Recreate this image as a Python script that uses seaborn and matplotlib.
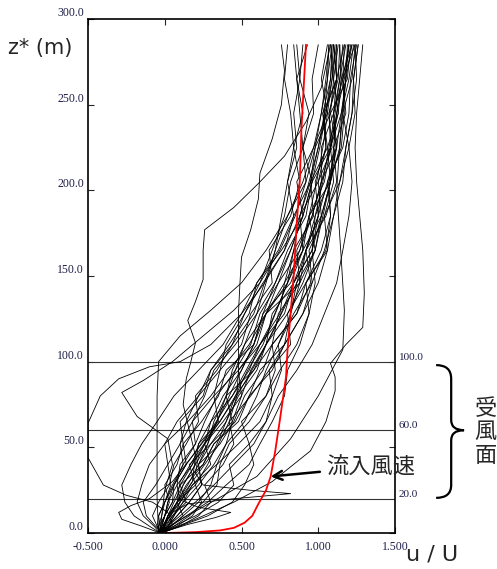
import pandas as pd
import matplotlib
matplotlib.use('Agg')
import matplotlib.pyplot as plt
import seaborn as sns
from matplotlib.path import Path
import matplotlib.patches as mpatches

# heights shared by the regular profiles [m]
z_levels = [0, 4, 10, 18, 28, 40, 52, 65, 80, 95, 110, 128, 146, 165, 185, 205, 225, 245, 265, 285]

# u/U of the regular profiles at z_levels
u01 = [-0.03, 0.00, 0.02, 0.10, 0.08, 0.18, 0.22, 0.35, 0.32, 0.48, 0.60, 0.66, 0.80, 0.84, 0.97, 0.95, 1.06, 1.03, 1.12, 1.10]
u02 = [-0.02, 0.04, 0.12, 0.08, 0.20, 0.16, 0.30, 0.44, 0.40, 0.58, 0.70, 0.74, 0.88, 0.98, 0.94, 1.08, 1.12, 1.08, 1.19, 1.21]
u03 = [-0.04, -0.04, 0.00, 0.03, 0.00, 0.08, 0.12, 0.10, 0.25, 0.30, 0.42, 0.55, 0.60, 0.76, 0.90, 0.86, 0.97, 1.06, 1.02, 1.06]
u04 = [-0.03, 0.06, 0.20, 0.35, 0.45, 0.42, 0.55, 0.50, 0.66, 0.72, 0.70, 0.86, 0.95, 0.92, 1.05, 1.12, 1.10, 1.18, 1.16, 1.24]
u05 = [-0.02, -0.06, -0.12, -0.14, -0.06, 0.02, 0.00, 0.15, 0.30, 0.42, 0.55, 0.66, 0.88, 0.92, 1.00, 0.98, 1.05, 1.03, 1.08, 1.09]
u06 = [-0.03, 0.01, 0.05, 0.14, 0.10, 0.25, 0.32, 0.48, 0.55, 0.62, 0.78, 0.82, 0.86, 0.98, 1.02, 1.08, 1.06, 1.13, 1.15, 1.14]
u07 = [-0.04, -0.04, -0.02, 0.00, 0.04, 0.02, 0.10, 0.14, 0.22, 0.36, 0.40, 0.52, 0.64, 0.78, 0.84, 0.80, 0.86, 0.84, 0.88, 0.86]
u08 = [-0.02, 0.10, 0.22, 0.30, 0.26, 0.38, 0.45, 0.42, 0.56, 0.68, 0.82, 0.80, 0.92, 1.06, 1.04, 1.14, 1.20, 1.16, 1.22, 1.24]
u09 = [-0.03, -0.10, -0.20, -0.26, -0.28, -0.22, -0.15, -0.05, 0.06, 0.22, 0.38, 0.50, 0.60, 0.74, 0.84, 0.95, 0.98, 1.08, 1.10, 1.13]
u10 = [-0.02, 0.00, 0.05, 0.12, 0.18, 0.30, 0.26, 0.38, 0.50, 0.48, 0.62, 0.75, 0.78, 0.90, 0.88, 1.00, 1.05, 1.04, 1.12, 1.17]
u11 = [-0.03, -0.02, 0.00, 0.05, 0.06, 0.14, 0.12, 0.24, 0.35, 0.40, 0.58, 0.64, 0.82, 0.90, 1.02, 1.00, 1.09, 1.07, 1.12, 1.10]
u12 = [-0.02, 0.02, 0.08, 0.16, 0.24, 0.22, 0.36, 0.45, 0.52, 0.64, 0.70, 0.86, 0.92, 1.05, 1.08, 1.06, 1.16, 1.20, 1.21, 1.25]
u13 = [-0.04, -0.03, 0.00, 0.02, 0.08, 0.10, 0.20, 0.18, 0.32, 0.36, 0.50, 0.56, 0.70, 0.68, 0.82, 0.88, 0.84, 0.90, 0.86, 0.93]
u14 = [-0.03, 0.04, 0.14, 0.28, 0.40, 0.55, 0.62, 0.70, 0.78, 0.80, 0.88, 0.94, 0.92, 1.02, 1.08, 1.07, 1.15, 1.17, 1.16, 1.20]
u15 = [-0.02, -0.05, -0.08, -0.04, 0.03, 0.06, 0.14, 0.22, 0.20, 0.34, 0.44, 0.58, 0.65, 0.72, 0.80, 0.92, 0.90, 0.97, 0.96, 1.00]
u16 = [-0.03, 0.00, 0.02, 0.06, 0.12, 0.20, 0.22, 0.30, 0.44, 0.55, 0.62, 0.78, 0.84, 0.96, 0.98, 1.07, 1.11, 1.10, 1.16, 1.17]
u17 = [-0.02, 0.10, 0.28, 0.44, 0.52, 0.58, 0.55, 0.66, 0.70, 0.68, 0.78, 0.90, 0.96, 0.94, 1.04, 1.10, 1.08, 1.15, 1.18, 1.19]
u18 = [-0.04, -0.02, 0.00, 0.02, 0.06, 0.12, 0.10, 0.18, 0.26, 0.32, 0.46, 0.60, 0.72, 0.80, 0.92, 0.96, 0.90, 0.94, 0.88, 0.90]
u19 = [-0.03, -0.01, 0.02, 0.08, 0.15, 0.22, 0.30, 0.40, 0.46, 0.58, 0.66, 0.70, 0.84, 0.96, 1.00, 1.02, 1.12, 1.15, 1.20, 1.23]
u20 = [-0.02, 0.02, 0.06, 0.10, 0.18, 0.34, 0.48, 0.62, 0.70, 0.76, 0.74, 0.82, 0.88, 0.86, 0.96, 1.02, 1.08, 1.07, 1.13, 1.14]
u21 = [-0.03, -0.07, -0.14, -0.18, -0.15, -0.10, 0.00, 0.08, 0.22, 0.30, 0.44, 0.52, 0.62, 0.70, 0.78, 0.82, 0.90, 0.88, 0.86, 0.84]
u22 = [-0.02, 0.00, 0.03, 0.08, 0.14, 0.25, 0.32, 0.46, 0.55, 0.70, 0.78, 0.90, 1.00, 1.06, 1.10, 1.16, 1.18, 1.22, 1.23, 1.26]
u23 = [-0.04, 0.02, 0.08, 0.16, 0.24, 0.22, 0.28, 0.32, 0.40, 0.46, 0.56, 0.62, 0.74, 0.88, 0.96, 1.02, 1.02, 1.10, 1.12, 1.12]
u24 = [-0.03, 0.04, 0.12, 0.22, 0.30, 0.34, 0.40, 0.44, 0.50, 0.56, 0.66, 0.80, 0.90, 0.98, 1.03, 1.08, 1.14, 1.16, 1.18, 1.22]
u25 = [-0.03, 0.06, 0.16, 0.25, 0.34, 0.36, 0.42, 0.55, 0.66, 0.75, 0.86, 0.94, 0.98, 0.96, 1.02, 1.08, 1.10, 1.12, 1.17, 1.20]
u26 = [-0.02, -0.02, 0.00, 0.05, 0.10, 0.18, 0.26, 0.30, 0.38, 0.50, 0.58, 0.64, 0.72, 0.82, 0.90, 0.96, 1.08, 1.12, 1.15, 1.22]
u27 = [-0.04, 0.02, 0.10, 0.20, 0.32, 0.45, 0.58, 0.66, 0.74, 0.86, 0.96, 1.04, 1.12, 1.16, 1.20, 1.22, 1.20, 1.24, 1.23, 1.26]
u28 = [-0.03, -0.05, -0.04, 0.00, 0.05, 0.12, 0.20, 0.26, 0.34, 0.46, 0.52, 0.60, 0.66, 0.72, 0.76, 0.80, 0.84, 0.82, 0.78, 0.80]
u29 = [-0.03, 0.08, 0.18, 0.24, 0.20, 0.28, 0.34, 0.40, 0.48, 0.60, 0.66, 0.76, 0.86, 0.92, 1.00, 1.06, 1.12, 1.10, 1.14, 1.18]
u30 = [-0.02, -0.03, -0.04, 0.00, 0.06, 0.14, 0.24, 0.36, 0.46, 0.54, 0.64, 0.72, 0.80, 0.90, 0.94, 1.04, 1.08, 1.13, 1.10, 1.08]
u31 = [-0.03, 0.02, 0.06, 0.12, 0.22, 0.32, 0.40, 0.52, 0.60, 0.66, 0.74, 0.84, 0.96, 1.04, 1.10, 1.14, 1.18, 1.22, 1.25, 1.24]
u32 = [-0.04, -0.02, 0.04, 0.08, 0.12, 0.20, 0.28, 0.34, 0.40, 0.44, 0.52, 0.66, 0.78, 0.84, 0.88, 0.94, 1.00, 1.05, 1.09, 1.12]

# irregular profiles, each with its own heights
loop_z = [0, 5, 12, 18, 22, 28, 44, 64, 80, 90, 97, 100, 110, 128, 146, 165, 185, 205, 225, 245, 265, 285]
loop_u = [-0.02, 0.05, 0.02, -0.08, -0.25, -0.40, -0.50, -0.50, -0.42, -0.30, -0.10, 0.10, 0.30, 0.50, 0.65, 0.78, 0.88, 0.95, 1.00, 1.04, 1.06, 1.07]
spike_z = [0, 6, 12, 17, 20, 23, 25, 28, 35, 45, 55, 65, 80, 95, 110, 128, 146, 165, 185, 205, 225, 245, 265, 285]
spike_u = [-0.03, 0.00, 0.05, 0.15, 0.45, 0.82, 0.55, 0.25, 0.20, 0.22, 0.28, 0.34, 0.42, 0.50, 0.58, 0.66, 0.74, 0.82, 0.90, 0.96, 1.01, 1.05, 1.08, 1.10]
wander_z = [0, 8, 18, 30, 45, 60, 75, 90, 100, 111, 124, 135, 148, 165, 177, 190, 204, 220, 240, 260, 285]
wander_u = [-0.03, 0.02, 0.10, 0.18, 0.20, 0.16, 0.12, 0.14, 0.17, 0.20, 0.15, 0.20, 0.25, 0.25, 0.26, 0.45, 0.61, 0.78, 0.92, 1.02, 1.08]
mid_z = [0, 10, 20, 35, 50, 65, 80, 95, 110, 128, 146, 161, 177, 195, 210, 230, 250, 270, 285]
mid_u = [-0.03, 0.02, 0.10, 0.22, 0.34, 0.42, 0.47, 0.48, 0.48, 0.48, 0.49, 0.50, 0.56, 0.61, 0.62, 0.70, 0.76, 0.78, 0.76]
far_z = [0, 8, 18, 30, 48, 65, 83, 91, 99, 110, 120, 140, 165, 185, 205, 225, 245, 265, 285]
far_u = [-0.03, 0.20, 0.45, 0.70, 0.95, 1.05, 1.11, 1.11, 1.08, 1.18, 1.29, 1.30, 1.29, 1.27, 1.25, 1.24, 1.25, 1.27, 1.29]
zig_z = [0, 10, 25, 40, 55, 68, 82, 89, 100, 115, 130, 146, 165, 185, 205, 225, 245, 265, 285]
zig_u = [-0.03, -0.02, 0.00, 0.05, 0.02, -0.18, -0.28, -0.14, 0.05, 0.25, 0.45, 0.62, 0.75, 0.85, 0.92, 0.98, 1.02, 1.05, 1.07]
post_z = [0, 20, 40, 60, 80, 100, 115, 130, 146, 165, 185, 205, 225, 245, 265, 285]
post_u = [-0.04, -0.05, -0.05, -0.05, -0.05, -0.04, 0.10, 0.30, 0.50, 0.66, 0.80, 0.90, 0.97, 1.02, 1.06, 1.09]
low_z = [0, 4, 8, 12, 16, 20, 30, 45, 60, 80, 100, 120, 146, 165, 185, 205, 225, 245, 265, 285]
low_u = [-0.03, -0.15, -0.28, -0.30, -0.22, -0.10, 0.05, 0.18, 0.30, 0.44, 0.56, 0.68, 0.80, 0.88, 0.94, 0.99, 1.03, 1.06, 1.09, 1.11]
lowr_z = [0, 5, 9, 12, 15, 20, 30, 45, 60, 80, 100, 120, 146, 165, 185, 205, 225, 245, 265, 285]
lowr_u = [-0.03, 0.15, 0.33, 0.43, 0.22, 0.08, 0.10, 0.20, 0.32, 0.47, 0.60, 0.72, 0.84, 0.92, 0.98, 1.03, 1.07, 1.11, 1.14, 1.16]
fan_z = [0, 33, 55, 80, 107, 130, 160, 200, 240, 285]
fan_u = [-0.05, 0.60, 0.82, 1.00, 1.16, 1.17, 1.15, 1.12, 1.15, 1.20]

# inflow profile (red)
inflow_z = [0, 0.5, 1.5, 3, 6, 10, 17, 25, 33, 48, 66, 91, 107, 150, 181, 206, 235, 260, 285]
inflow_u = [0.01, 0.20, 0.36, 0.45, 0.52, 0.57, 0.61, 0.66, 0.69, 0.72, 0.75, 0.79, 0.80, 0.84, 0.86, 0.88, 0.89, 0.905, 0.92]

ref_heights = [20, 60, 100]

regular = [u01, u02, u03, u04, u05, u06, u07, u08, u09, u10, u11, u12, u13, u14, u15, u16,
           u17, u18, u19, u20, u21, u22, u23, u24, u25, u26, u27, u28, u29, u30, u31, u32]
runs = [(z_levels, u) for u in regular]
runs += [(loop_z, loop_u), (spike_z, spike_u), (wander_z, wander_u), (mid_z, mid_u),
         (far_z, far_u), (zig_z, zig_u), (post_z, post_u), (low_z, low_u),
         (lowr_z, lowr_u), (fan_z, fan_u)]

rows = []
for i, (zz, uu) in enumerate(runs):
    for zv, uv in zip(zz, uu):
        rows.append({'run': i, 'u': uv, 'z': zv})
df = pd.DataFrame(rows)
df_in = pd.DataFrame({'u': inflow_u, 'z': inflow_z})

sns.set_style('ticks')
plt.rcParams['font.family'] = ['DejaVu Sans', 'Noto Sans CJK JP']
jp = ['Noto Sans CJK JP', 'DejaVu Sans']
serif = 'Liberation Serif'
lab_col = '#1e1e48'

fig = plt.figure(figsize=(4.97, 5.69), dpi=100)
ax = fig.add_axes([88/497, 36/569, 307/497, 514/569])

sns.lineplot(data=df, x='u', y='z', units='run', estimator=None, sort=False,
             color='black', lw=0.6, ax=ax)
sns.lineplot(data=df_in, x='u', y='z', sort=False, estimator=None,
             color='red', lw=1.3, ax=ax)

for h in ref_heights:
    ax.axhline(h, color='#333333', lw=0.8, zorder=1)
    ax.text(1.525, h, f'{h:.1f}', fontsize=8, family=serif, color=lab_col,
            ha='left', va='bottom')

ax.set_xlim(-0.5, 1.5)
ax.set_ylim(0, 300)
ax.set_xticks([-0.5, 0, 0.5, 1.0, 1.5])
ax.set_xticklabels([f'{v:.3f}' for v in [-0.5, 0, 0.5, 1.0, 1.5]])
ax.set_yticks([0, 50, 100, 150, 200, 250, 300])
ax.set_yticklabels([f'{v:.1f}' for v in [0, 50, 100, 150, 200, 250, 300]])
ax.tick_params(direction='in', top=True, right=True, length=4, width=0.8,
               labelsize=8.5, labelcolor=lab_col)
ax.tick_params(axis='x', pad=6)
ax.tick_params(axis='y', pad=3)
for t in ax.get_xticklabels() + ax.get_yticklabels():
    t.set_family(serif)
for t in ax.get_yticklabels():
    t.set_va('bottom')
ax.set_xlabel('')
ax.set_ylabel('')
for s in ax.spines.values():
    s.set_linewidth(1.2)
    s.set_color('black')

# inflow annotation
ax.annotate('流入風速', xy=(0.69, 33), xytext=(1.05, 38.5), fontsize=16, family=jp,
            ha='left', va='center',
            arrowprops=dict(arrowstyle='->', lw=1.8, color='black',
                            shrinkA=2, shrinkB=0, mutation_scale=16))

# brace for the windward face
x0, xm, xt = 1.768, 1.866, 1.95
verts = [(x0, 98), (xm, 98), (xm, 90), (xm, 66), (xm, 60), (xt, 60),
         (xm, 60), (xm, 54), (xm, 28), (xm, 20.5), (x0, 20.5)]
codes = [Path.MOVETO, Path.CURVE3, Path.CURVE3, Path.LINETO, Path.CURVE3, Path.CURVE3,
         Path.CURVE3, Path.CURVE3, Path.LINETO, Path.CURVE3, Path.CURVE3]
brace = mpatches.PathPatch(Path(verts, codes), fill=False, lw=1.6, color='black',
                           clip_on=False)
ax.add_patch(brace)
for ch, zc in zip('受風面', [72.5, 59, 45.5]):
    ax.text(2.09, zc, ch, fontsize=16, family=jp, ha='center', va='center',
            clip_on=False)

fig.text(8/497, 1 - 48/569, 'z* (m)', fontsize=15, ha='left', va='center')
fig.text(406/497, 1 - 554/569, 'u / U', fontsize=16, ha='left', va='center')

fig.savefig('out.png', dpi=100)
